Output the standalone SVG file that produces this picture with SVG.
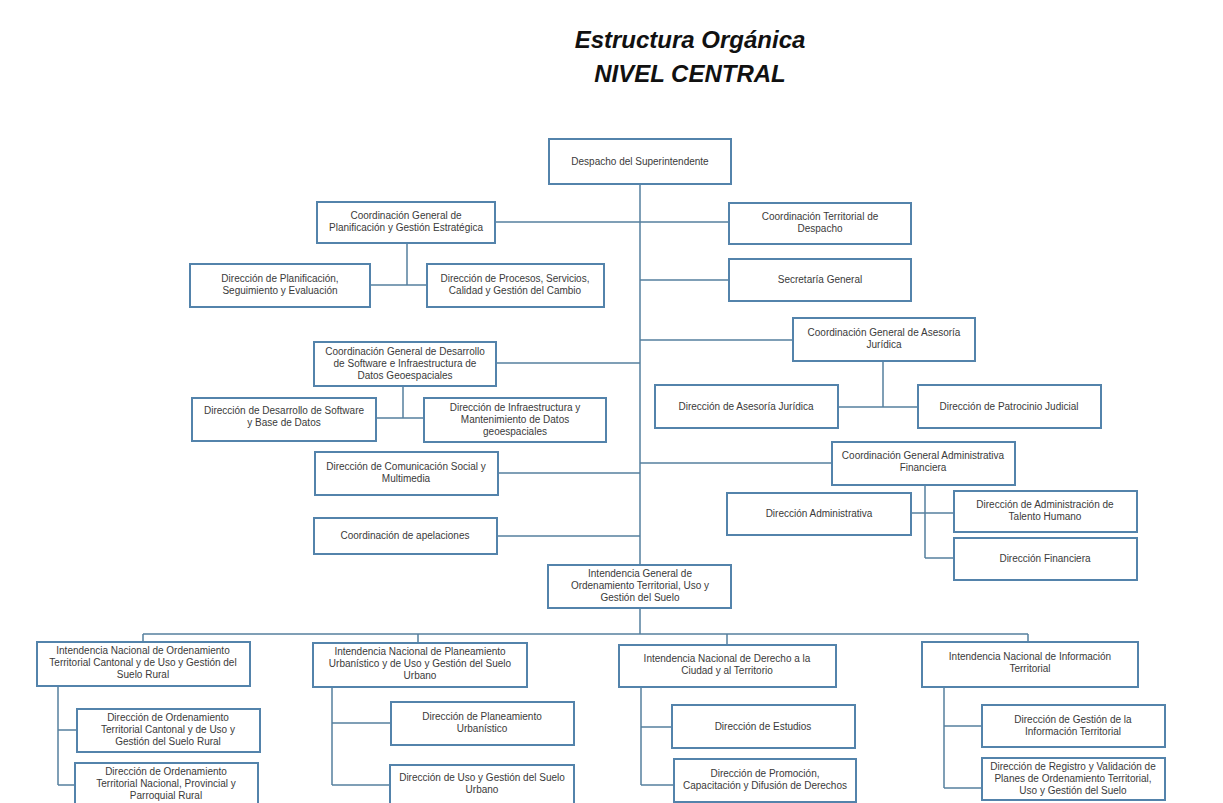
<svg xmlns="http://www.w3.org/2000/svg" width="1223" height="803" viewBox="0 0 1223 803">
<style>
.b{fill:#fff;stroke:#5383ab;stroke-width:2}
.t{font-family:"Liberation Sans",Arial,sans-serif;font-size:10px;fill:#3a3a3a;text-anchor:middle}
.c{fill:none;stroke:#55809f;stroke-width:1.5}
.h{font-family:"Liberation Sans",Arial,sans-serif;font-size:24px;font-weight:bold;font-style:italic;fill:#111;text-anchor:middle}
</style>
<rect width="1223" height="803" fill="#fff"/>
<g id="title">
<text class="h" x="690" y="48">Estructura Orgánica</text>
<text class="h" x="690" y="82">NIVEL CENTRAL</text>
</g>
<g id="connectors">
<path class="c" d="M640 184V565M495 222H640M640 222H729M640 280H729M640 340H793M496 363H640M498 473H640M497 536H640M640 463H832"/>
<path class="c" d="M407 243V285M370 285H427M883 361V407M838 407H918M403 386V418M376 418H424M925 485V558M911 513H954M925 558H954"/>
<path class="c" d="M640 608V634M143 634H1028M143 634V642M418 634V643M727 634V645M1028 634V642"/>
<path class="c" d="M58 686V785M58 730H77M58 785H75M332 687V785M332 723H391M332 785H390M641 687V785M641 727H672M641 785H674M944 687V788M944 726H982M944 788H982"/>
</g>
<g id="despacho"><rect class="b" x="549" y="139" width="182" height="45"/><text class="t" x="640" y="165">Despacho del Superintendente</text></g>
<g id="cgp"><rect class="b" x="317" y="202" width="178" height="41"/><text class="t" x="406" y="219">Coordinación General de</text><text class="t" x="406" y="231">Planificación y Gestión Estratégica</text></g>
<g id="dpse"><rect class="b" x="190" y="264" width="180" height="43"/><text class="t" x="280" y="282">Dirección de Planificación,</text><text class="t" x="280" y="294">Seguimiento y Evaluación</text></g>
<g id="dpsc"><rect class="b" x="427" y="264" width="177" height="43"/><text class="t" x="515" y="282">Dirección de Procesos, Servicios,</text><text class="t" x="515" y="294">Calidad y Gestión del Cambio</text></g>
<g id="ctd"><rect class="b" x="729" y="203" width="182" height="41"/><text class="t" x="820" y="220">Coordinación Territorial de</text><text class="t" x="820" y="232">Despacho</text></g>
<g id="sg"><rect class="b" x="729" y="259" width="182" height="42"/><text class="t" x="820" y="283">Secretaría General</text></g>
<g id="cgaj"><rect class="b" x="793" y="318" width="182" height="43"/><text class="t" x="884" y="336">Coordinación General de Asesoría</text><text class="t" x="884" y="348">Jurídica</text></g>
<g id="daj"><rect class="b" x="655" y="385" width="183" height="43"/><text class="t" x="746" y="410">Dirección de Asesoría Jurídica</text></g>
<g id="dpj"><rect class="b" x="918" y="385" width="183" height="43"/><text class="t" x="1009" y="410">Dirección de Patrocinio Judicial</text></g>
<g id="cgds"><rect class="b" x="314" y="342" width="182" height="44"/><text class="t" x="405" y="355">Coordinación General de Desarrollo</text><text class="t" x="405" y="367">de Software e Infraestructura de</text><text class="t" x="405" y="379">Datos Geoespaciales</text></g>
<g id="dds"><rect class="b" x="192" y="398" width="184" height="43"/><text class="t" x="284" y="414">Dirección de Desarrollo de Software</text><text class="t" x="284" y="426">y Base de Datos</text></g>
<g id="dimd"><rect class="b" x="424" y="398" width="182" height="44"/><text class="t" x="515" y="411">Dirección de Infraestructura y</text><text class="t" x="515" y="423">Mantenimiento de Datos</text><text class="t" x="515" y="435">geoespaciales</text></g>
<g id="dcsm"><rect class="b" x="315" y="452" width="183" height="43"/><text class="t" x="406" y="470">Dirección de Comunicación Social y</text><text class="t" x="406" y="482">Multimedia</text></g>
<g id="cgaf"><rect class="b" x="832" y="442" width="183" height="43"/><text class="t" x="923" y="459">Coordinación General Administrativa</text><text class="t" x="923" y="471">Financiera</text></g>
<g id="dadm"><rect class="b" x="727" y="493" width="184" height="42"/><text class="t" x="819" y="517">Dirección Administrativa</text></g>
<g id="dath"><rect class="b" x="954" y="491" width="183" height="41"/><text class="t" x="1045" y="508">Dirección de Administración de</text><text class="t" x="1045" y="520">Talento Humano</text></g>
<g id="dfin"><rect class="b" x="954" y="538" width="183" height="42"/><text class="t" x="1045" y="562">Dirección Financiera</text></g>
<g id="capel"><rect class="b" x="314" y="518" width="183" height="36"/><text class="t" x="405" y="539">Coordinación de apelaciones</text></g>
<g id="igot"><rect class="b" x="548" y="565" width="183" height="43"/><text class="t" x="640" y="577">Intendencia General de</text><text class="t" x="640" y="589">Ordenamiento Territorial, Uso y</text><text class="t" x="640" y="601">Gestión del Suelo</text></g>
<g id="in1"><rect class="b" x="37" y="642" width="213" height="44"/><text class="t" x="143" y="654">Intendencia Nacional de Ordenamiento</text><text class="t" x="143" y="666">Territorial Cantonal y de Uso y Gestión del</text><text class="t" x="143" y="678">Suelo Rural</text></g>
<g id="d11"><rect class="b" x="77" y="709" width="183" height="43"/><text class="t" x="168" y="721">Dirección de Ordenamiento</text><text class="t" x="168" y="733">Territorial Cantonal y de Uso y</text><text class="t" x="168" y="745">Gestión del Suelo Rural</text></g>
<g id="d12"><rect class="b" x="75" y="763" width="183" height="44"/><text class="t" x="166" y="775">Dirección de Ordenamiento</text><text class="t" x="166" y="787">Territorial Nacional, Provincial y</text><text class="t" x="166" y="799">Parroquial Rural</text></g>
<g id="in2"><rect class="b" x="313" y="643" width="214" height="44"/><text class="t" x="420" y="655">Intendencia Nacional de Planeamiento</text><text class="t" x="420" y="667">Urbanístico y de Uso y Gestión del Suelo</text><text class="t" x="420" y="679">Urbano</text></g>
<g id="d21"><rect class="b" x="391" y="702" width="183" height="43"/><text class="t" x="482" y="720">Dirección de Planeamiento</text><text class="t" x="482" y="732">Urbanístico</text></g>
<g id="d22"><rect class="b" x="390" y="765" width="184" height="40"/><text class="t" x="482" y="781">Dirección de Uso y Gestión del Suelo</text><text class="t" x="482" y="793">Urbano</text></g>
<g id="in3"><rect class="b" x="619" y="645" width="217" height="42"/><text class="t" x="727" y="662">Intendencia Nacional de Derecho a la</text><text class="t" x="727" y="674">Ciudad y al Territorio</text></g>
<g id="d31"><rect class="b" x="672" y="705" width="183" height="43"/><text class="t" x="763" y="730">Dirección de Estudios</text></g>
<g id="d32"><rect class="b" x="674" y="759" width="182" height="43"/><text class="t" x="765" y="777">Dirección de Promoción,</text><text class="t" x="765" y="789">Capacitación y Difusión de Derechos</text></g>
<g id="in4"><rect class="b" x="922" y="642" width="216" height="45"/><text class="t" x="1030" y="660">Intendencia Nacional de Información</text><text class="t" x="1030" y="672">Territorial</text></g>
<g id="d41"><rect class="b" x="982" y="705" width="183" height="42"/><text class="t" x="1073" y="723">Dirección de Gestión de la</text><text class="t" x="1073" y="735">Información Territorial</text></g>
<g id="d42"><rect class="b" x="982" y="758" width="183" height="42"/><text class="t" x="1073" y="770">Dirección de Registro y Validación de</text><text class="t" x="1073" y="782">Planes de Ordenamiento Territorial,</text><text class="t" x="1073" y="794">Uso y Gestión del Suelo</text></g>
</svg>
